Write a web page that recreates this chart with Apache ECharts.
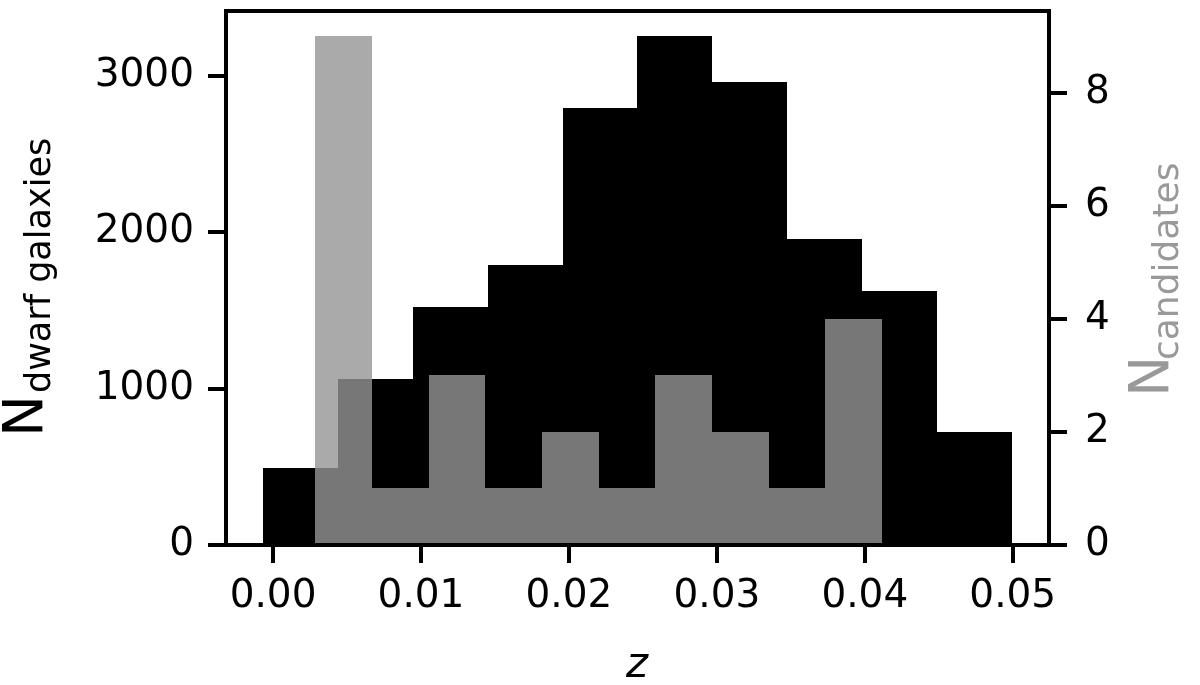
<!DOCTYPE html>
<html>
<head>
<meta charset="utf-8">
<script src="https://cdn.jsdelivr.net/npm/echarts@6/dist/echarts.min.js"></script>
<style>
html,body{margin:0;padding:0;background:#fff;}
#chart{width:1200px;height:685px;}
</style>
</head>
<body>
<div id="chart"></div>
<script>
// ---- data ----
const dwarfEdges = [-0.00066, 0.0044, 0.00946, 0.01451, 0.01957, 0.02463, 0.02969, 0.03475, 0.0398, 0.04486, 0.04992];
const dwarfCounts = [490, 1060, 1518, 1792, 2790, 3250, 2960, 1958, 1620, 722];
const candEdges = [0.002858, 0.006689, 0.01052, 0.014351, 0.018182, 0.022013, 0.025844, 0.029675, 0.033506, 0.037337, 0.041168];
const candCounts = [9, 1, 3, 1, 2, 1, 3, 2, 1, 4];
const xTicks = [0, 0.01, 0.02, 0.03, 0.04, 0.05];
const leftTicks = [0, 1000, 2000, 3000];
const rightTicks = [0, 2, 4, 6, 8];

const FONT = 'DejaVu Sans';
const dwarfData = dwarfCounts.map((v, i) => [dwarfEdges[i], dwarfEdges[i + 1], v]);
const candData = candCounts.map((v, i) => [candEdges[i], candEdges[i + 1], v]);

function barRenderer(fill) {
  return function (params, api) {
    const p0 = api.coord([api.value(0), 0]);
    const p1 = api.coord([api.value(1), api.value(2)]);
    const x0 = Math.round(p0[0]), x1 = Math.round(p1[0]);
    const yb = Math.round(p0[1]), yt = Math.round(p1[1]);
    return {
      type: 'rect',
      shape: { x: x0, y: yt, width: x1 - x0, height: yb - yt },
      style: { fill: fill }
    };
  };
}

const chart = echarts.init(document.getElementById('chart'), null, { renderer: 'canvas' });
const tickStyle = { color: '#000', width: 4 };
const labelBase = { color: '#000', fontFamily: FONT, fontSize: 39 };

chart.setOption({
  animation: false,
  backgroundColor: '#fff',
  grid: { left: 226, right: 151, top: 11, bottom: 140, show: true, borderColor: '#000', borderWidth: 4, backgroundColor: 'transparent' },
  xAxis: {
    type: 'value', min: -0.00318, max: 0.05245, z: 5,
    axisLine: { show: true, onZero: false, lineStyle: { color: '#000', width: 4 } },
    axisTick: { show: true, inside: false, length: 18, lineStyle: tickStyle, customValues: xTicks },
    axisLabel: Object.assign({}, labelBase, { margin: 32, customValues: xTicks, formatter: v => v.toFixed(2) }),
    splitLine: { show: false }
  },
  yAxis: [
    {
      type: 'value', min: 0, max: 3412.5, position: 'left', z: 5,
      axisLine: { show: true, onZero: false, lineStyle: { color: '#000', width: 4 } },
      axisTick: { show: true, inside: false, length: 18, lineStyle: tickStyle, customValues: leftTicks },
      axisLabel: Object.assign({}, labelBase, { margin: 32, customValues: leftTicks, formatter: v => String(v) }),
      splitLine: { show: false }
    },
    {
      type: 'value', min: 0, max: 9.45, position: 'right', z: 5,
      axisLine: { show: true, onZero: false, lineStyle: { color: '#000', width: 4 } },
      axisTick: { show: true, inside: false, length: 18, lineStyle: tickStyle, customValues: rightTicks },
      axisLabel: Object.assign({}, labelBase, { margin: 36, customValues: rightTicks, formatter: v => String(v) }),
      splitLine: { show: false }
    }
  ],
  series: [
    { type: 'custom', name: 'dwarf', xAxisIndex: 0, yAxisIndex: 0, z: 2, renderItem: barRenderer('#000000'), encode: { x: [0, 1], y: 2 }, data: dwarfData },
    { type: 'custom', name: 'candidates', xAxisIndex: 0, yAxisIndex: 1, z: 3, renderItem: barRenderer('rgba(149,149,149,0.8)'), encode: { x: [0, 1], y: 2 }, data: candData }
  ],
  graphic: [
    { type: 'text', x: 27, y: 437, rotation: Math.PI / 2, style: { text: 'N', fontFamily: FONT, fontSize: 56, fill: '#000', textAlign: 'left', textVerticalAlign: 'middle' } },
    { type: 'text', x: 41, y: 393, rotation: Math.PI / 2, style: { text: 'dwarf galaxies', fontFamily: FONT, fontSize: 35, fill: '#000', textAlign: 'left', textVerticalAlign: 'middle' } },
    { type: 'text', x: 1154, y: 397, rotation: Math.PI / 2, style: { text: 'N', fontFamily: FONT, fontSize: 55, fill: '#999999', textAlign: 'left', textVerticalAlign: 'middle' } },
    { type: 'text', x: 1169, y: 360, rotation: Math.PI / 2, style: { text: 'candidates', fontFamily: FONT, fontSize: 36, fill: '#999999', textAlign: 'left', textVerticalAlign: 'middle' } },
    { type: 'text', x: 637, y: 666, style: { text: 'z', fontFamily: FONT, fontStyle: 'italic', fontSize: 42, fill: '#000', textAlign: 'center', textVerticalAlign: 'middle' } }
  ]
});
</script>
</body>
</html>
